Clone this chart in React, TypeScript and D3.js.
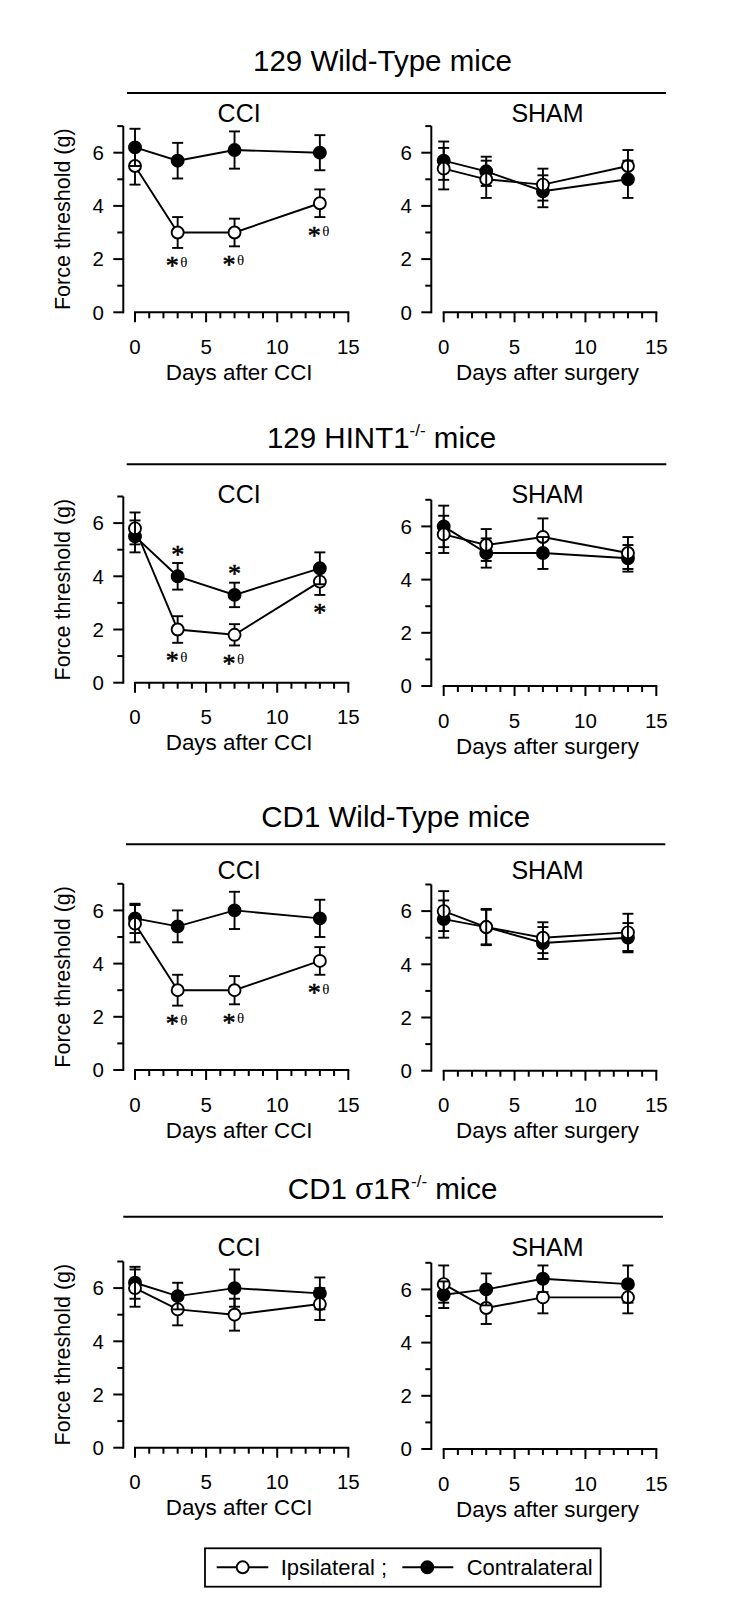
import React from "react";
import * as d3 from "d3";

// ---------- data ----------
const days = [0, 3, 7, 13];
const xMajorTicks = [0, 5, 10, 15];
const yMajorTicks = [0, 2, 4, 6];
const xDomain = [0, 15];
const yDomain = [0, 7];

const sectionTitleMain = ["129 Wild-Type mice", "129 HINT1", "CD1 Wild-Type mice", "CD1 \u03c31R"];
const sectionTitleSup = ["", "-/-", "", "-/-"];
const sectionTitleRest = ["", " mice", "", " mice"];
const panelTitles = ["CCI", "SHAM"];
const xTitles = ["Days after CCI", "Days after surgery"];
const yTitle = "Force threshold (g)";
const legendLabels = ["Ipsilateral ;", "Contralateral"];

// 129 Wild-Type
const wt129CciIpsi = [5.5, 3.0, 3.0, 4.1];
const wt129CciIpsiErr = [0.7, 0.58, 0.52, 0.52];
const wt129CciContra = [6.2, 5.7, 6.1, 6.0];
const wt129CciContraErr = [0.7, 0.67, 0.7, 0.66];
const wt129ShamIpsi = [5.4, 5.0, 4.8, 5.5];
const wt129ShamIpsiErr = [0.78, 0.7, 0.6, 0.6];
const wt129ShamContra = [5.7, 5.3, 4.55, 5.0];
const wt129ShamContraErr = [0.72, 0.55, 0.6, 0.7];
// 129 HINT1-/-
const hint129CciIpsi = [5.8, 2.0, 1.8, 3.8];
const hint129CciIpsiErr = [0.6, 0.5, 0.4, 0.5];
const hint129CciContra = [5.5, 4.0, 3.3, 4.3];
const hint129CciContraErr = [0.6, 0.5, 0.46, 0.6];
const hint129ShamIpsi = [5.7, 5.3, 5.6, 5.0];
const hint129ShamIpsiErr = [0.7, 0.6, 0.7, 0.6];
const hint129ShamContra = [6.0, 5.0, 5.0, 4.8];
const hint129ShamContraErr = [0.78, 0.55, 0.6, 0.5];
// CD1 Wild-Type
const cd1CciIpsi = [5.5, 3.0, 3.0, 4.1];
const cd1CciIpsiErr = [0.7, 0.58, 0.53, 0.52];
const cd1CciContra = [5.7, 5.4, 6.0, 5.7];
const cd1CciContraErr = [0.55, 0.6, 0.7, 0.7];
const cd1ShamIpsi = [6.0, 5.4, 5.0, 5.2];
const cd1ShamIpsiErr = [0.75, 0.68, 0.58, 0.7];
const cd1ShamContra = [5.7, 5.4, 4.8, 5.0];
const cd1ShamContraErr = [0.7, 0.65, 0.6, 0.55];
// CD1 sigma1R-/-
const sig1CciIpsi = [6.0, 5.2, 5.0, 5.4];
const sig1CciIpsiErr = [0.7, 0.6, 0.6, 0.6];
const sig1CciContra = [6.2, 5.7, 6.0, 5.8];
const sig1CciContraErr = [0.6, 0.5, 0.7, 0.6];
const sig1ShamIpsi = [6.2, 5.3, 5.7, 5.7];
const sig1ShamIpsiErr = [0.7, 0.6, 0.6, 0.6];
const sig1ShamContra = [5.8, 6.0, 6.4, 6.2];
const sig1ShamContraErr = [0.5, 0.6, 0.5, 0.7];

// significance marks
type Mark = { i: number; s: "ipsi" | "contra"; side: "below" | "above"; theta: boolean };
const wt129CciMarks: Mark[] = [
  { i: 1, s: "ipsi", side: "below", theta: true },
  { i: 2, s: "ipsi", side: "below", theta: true },
  { i: 3, s: "ipsi", side: "below", theta: true },
];
const hint129CciMarks: Mark[] = [
  { i: 1, s: "contra", side: "above", theta: false },
  { i: 2, s: "contra", side: "above", theta: false },
  { i: 1, s: "ipsi", side: "below", theta: true },
  { i: 2, s: "ipsi", side: "below", theta: true },
  { i: 3, s: "ipsi", side: "below", theta: false },
];
const cd1CciMarks: Mark[] = [
  { i: 1, s: "ipsi", side: "below", theta: true },
  { i: 2, s: "ipsi", side: "below", theta: true },
  { i: 3, s: "ipsi", side: "below", theta: true },
];

const panels = [
  { sec: 0, col: 0, ipsi: wt129CciIpsi, ipsiErr: wt129CciIpsiErr, contra: wt129CciContra, contraErr: wt129CciContraErr, marks: wt129CciMarks },
  { sec: 0, col: 1, ipsi: wt129ShamIpsi, ipsiErr: wt129ShamIpsiErr, contra: wt129ShamContra, contraErr: wt129ShamContraErr, marks: [] as Mark[] },
  { sec: 1, col: 0, ipsi: hint129CciIpsi, ipsiErr: hint129CciIpsiErr, contra: hint129CciContra, contraErr: hint129CciContraErr, marks: hint129CciMarks },
  { sec: 1, col: 1, ipsi: hint129ShamIpsi, ipsiErr: hint129ShamIpsiErr, contra: hint129ShamContra, contraErr: hint129ShamContraErr, marks: [] as Mark[] },
  { sec: 2, col: 0, ipsi: cd1CciIpsi, ipsiErr: cd1CciIpsiErr, contra: cd1CciContra, contraErr: cd1CciContraErr, marks: cd1CciMarks },
  { sec: 2, col: 1, ipsi: cd1ShamIpsi, ipsiErr: cd1ShamIpsiErr, contra: cd1ShamContra, contraErr: cd1ShamContraErr, marks: [] as Mark[] },
  { sec: 3, col: 0, ipsi: sig1CciIpsi, ipsiErr: sig1CciIpsiErr, contra: sig1CciContra, contraErr: sig1CciContraErr, marks: [] as Mark[] },
  { sec: 3, col: 1, ipsi: sig1ShamIpsi, ipsiErr: sig1ShamIpsiErr, contra: sig1ShamContra, contraErr: sig1ShamContraErr, marks: [] as Mark[] },
];

// ---------- layout ----------
const W = 756;
const H = 1618;
const UNIT = 26.6;
const SANS = "'Liberation Sans', Arial, Helvetica, sans-serif";
const SERIF = "'Liberation Serif', 'Times New Roman', serif";
const secLayout = [
  { titleY: 70.7, titleX: 382.5, ruleY: 93, ruleX: [127, 666], subY: 121.7, y0: [312.3, 312.3] },
  { titleY: 448, titleX: 381.5, ruleY: 464.3, ruleX: [126.7, 666.3], subY: 503.3, y0: [682.7, 686] },
  { titleY: 826.7, titleX: 395.7, ruleY: 844.3, ruleX: [126, 665.3], subY: 879.3, y0: [1070, 1070.7] },
  { titleY: 1199, titleX: 392.7, ruleY: 1216.7, ruleX: [123.3, 663], subY: 1256, y0: [1447.7, 1449] },
];
const colLayout = [
  { axisX: 123.3, x0: 135, x1: 348.3 },
  { axisX: 431.3, x0: 443.7, x1: 656.3 },
];
const R = 6;
const CAP = 5.5;
const LW = 1.9;

function ErrBars({ vals, errs, x, y }: any) {
  return (
    <g stroke="#000" strokeWidth={LW} fill="none">
      {vals.map((v: number, i: number) => {
        const cx = x(days[i]);
        const yt = y(v + errs[i]);
        const yb = y(v - errs[i]);
        return (
          <g key={i}>
            <line x1={cx} x2={cx} y1={yt} y2={yb} />
            <line x1={cx - CAP} x2={cx + CAP} y1={yt} y2={yt} />
            <line x1={cx - CAP} x2={cx + CAP} y1={yb} y2={yb} />
          </g>
        );
      })}
    </g>
  );
}

function Panel({ p }: any) {
  const L = secLayout[p.sec];
  const C = colLayout[p.col];
  const y0 = L.y0[p.col];
  const x = d3.scaleLinear().domain(xDomain).range([C.x0, C.x1]);
  const y = d3.scaleLinear().domain(yDomain).range([y0, y0 - 7 * UNIT]);
  const line = d3
    .line<number>()
    .x((_, i) => x(days[i]))
    .y((d) => y(d));
  const yTicksAll = d3.range(yDomain[0], yDomain[1] + 1, 1);
  const xTicksAll = d3.range(xDomain[0], xDomain[1] + 1, 1);
  const xMid = (C.x0 + C.x1) / 2 - 2.5;

  return (
    <g>
      <g stroke="#000" strokeWidth={2}>
        <line x1={C.axisX} x2={C.axisX} y1={y(7)} y2={y(0) + 1} />
        {yTicksAll.map((t) => (
          <line key={t} x1={C.axisX - (yMajorTicks.includes(t) ? 10 : 6)} x2={C.axisX} y1={y(t)} y2={y(t)} />
        ))}
      </g>
      {yMajorTicks.map((t) => (
        <text key={t} x={C.axisX - 19.5} y={y(t) + 7.3} textAnchor="end" fontFamily={SANS} fontSize={20.5}>
          {t}
        </text>
      ))}
      <g stroke="#000" strokeWidth={2}>
        <line x1={x(0) - 1} x2={x(15) + 1} y1={y0} y2={y0} />
        {xTicksAll.map((t) => (
          <line key={t} x1={x(t)} x2={x(t)} y1={y0} y2={y0 + (xMajorTicks.includes(t) ? 10 : 6)} />
        ))}
      </g>
      {xMajorTicks.map((t) => (
        <text key={t} x={x(t)} y={y0 + 41.5} textAnchor="middle" fontFamily={SANS} fontSize={20.5}>
          {t}
        </text>
      ))}
      <text x={xMid} y={y0 + 67.5} textAnchor="middle" fontFamily={SANS} fontSize={22.4}>
        {xTitles[p.col]}
      </text>
      <text x={xMid} y={L.subY} textAnchor="middle" fontFamily={SANS} fontSize={25}>
        {panelTitles[p.col]}
      </text>
      {p.col === 0 && (
        <text
          transform={`translate(70, ${y(3.5)}) rotate(-90)`}
          textAnchor="middle"
          fontFamily={SANS}
          fontSize={21.5}
        >
          {yTitle}
        </text>
      )}
      <path d={line(p.contra) || ""} fill="none" stroke="#000" strokeWidth={LW} />
      <path d={line(p.ipsi) || ""} fill="none" stroke="#000" strokeWidth={LW} />
      {p.contra.map((v: number, i: number) => (
        <circle key={"c" + i} cx={x(days[i])} cy={y(v)} r={R} fill="#000" stroke="#000" strokeWidth={LW} />
      ))}
      <ErrBars vals={p.ipsi} errs={p.ipsiErr} x={x} y={y} />
      {p.ipsi.map((v: number, i: number) => (
        <circle key={"i" + i} cx={x(days[i])} cy={y(v)} r={R} fill="#fff" stroke="#000" strokeWidth={LW} />
      ))}
      <ErrBars vals={p.contra} errs={p.contraErr} x={x} y={y} />
      {p.marks.map((m: Mark, k: number) => {
        const vals = m.s === "ipsi" ? p.ipsi : p.contra;
        const errs = m.s === "ipsi" ? p.ipsiErr : p.contraErr;
        const px = x(days[m.i]);
        const cy = m.side === "below" ? y(vals[m.i] - errs[m.i]) + 14 : y(vals[m.i] + errs[m.i]) - 13;
        return (
          <g key={k}>
            <text
              x={m.theta ? px - 5.5 : px}
              y={cy + 12.5}
              textAnchor="middle"
              fontFamily={SERIF}
              fontSize={26}
              stroke="#000"
              strokeWidth={0.6}
            >
              *
            </text>
            {m.theta && (
              <text x={px + 2.5} y={cy + 5} textAnchor="start" fontFamily={SERIF} fontSize={15}>
                {"\u03b8"}
              </text>
            )}
          </g>
        );
      })}
    </g>
  );
}

export default function App() {
  return (
    <div style={{ position: "absolute", left: 0, top: 0, width: W, height: H, background: "#fff" }}>
      <svg width={W} height={H} viewBox={`0 0 ${W} ${H}`} style={{ display: "block" }}>
        <rect x={0} y={0} width={W} height={H} fill="#fff" />
        {secLayout.map((L, s) => (
          <g key={s}>
            <text x={L.titleX} y={L.titleY} textAnchor="middle" fontFamily={SANS} fontSize={29.5}>
              {sectionTitleMain[s]}
              {sectionTitleSup[s] && (
                <tspan fontSize={17} dy={-12}>
                  {sectionTitleSup[s]}
                </tspan>
              )}
              {sectionTitleRest[s] && <tspan dy={sectionTitleSup[s] ? 12 : 0}>{sectionTitleRest[s]}</tspan>}
            </text>
            <line x1={L.ruleX[0]} x2={L.ruleX[1]} y1={L.ruleY} y2={L.ruleY} stroke="#000" strokeWidth={2} />
          </g>
        ))}
        {panels.map((p, k) => (
          <Panel key={k} p={p} />
        ))}
        <g>
          <rect x={205} y={1548.3} width={395.7} height={38.4} fill="none" stroke="#000" strokeWidth={1.8} />
          <line x1={216.7} x2={268.3} y1={1567.3} y2={1567.3} stroke="#000" strokeWidth={LW} />
          <circle cx={242.7} cy={1567.3} r={R} fill="#fff" stroke="#000" strokeWidth={LW} />
          <text x={280.7} y={1575} fontFamily={SANS} fontSize={22}>
            {legendLabels[0]}
          </text>
          <line x1={402.3} x2={453.3} y1={1567.3} y2={1567.3} stroke="#000" strokeWidth={LW} />
          <circle cx={427.3} cy={1567.3} r={R} fill="#000" stroke="#000" strokeWidth={LW} />
          <text x={466.7} y={1575} fontFamily={SANS} fontSize={22}>
            {legendLabels[1]}
          </text>
        </g>
      </svg>
    </div>
  );
}
